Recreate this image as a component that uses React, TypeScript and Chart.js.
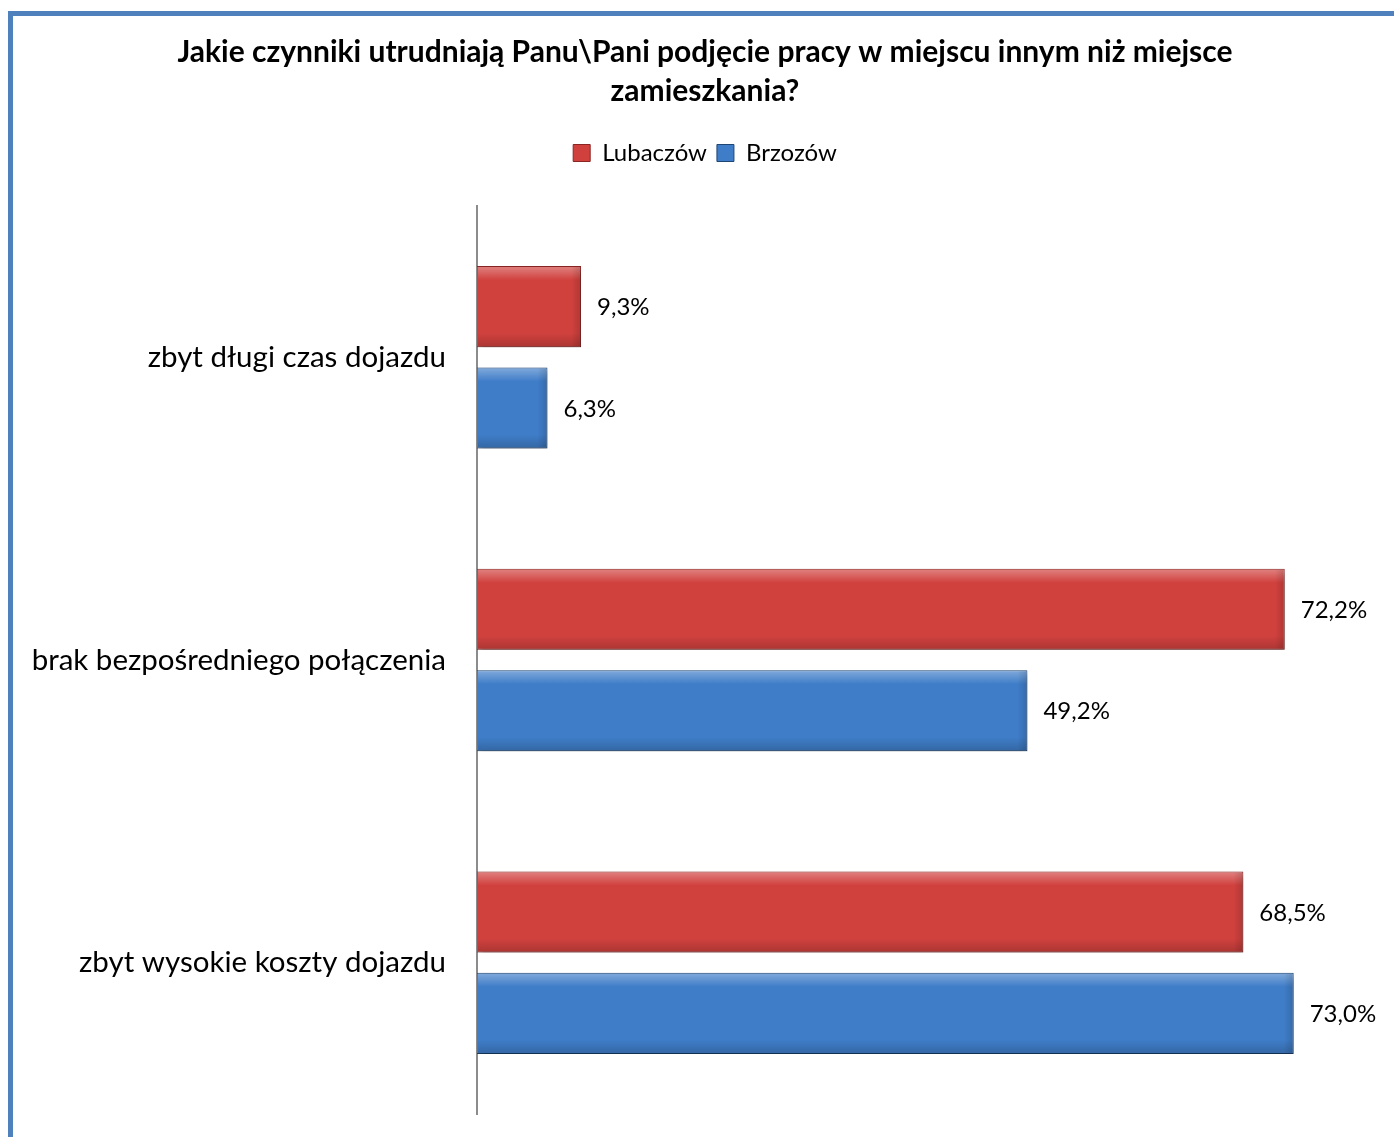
import React, { useEffect, useRef } from "react";
import { Chart, registerables } from "chart.js";

Chart.register(...registerables);

const titleLines = [
  "Jakie czynniki utrudniają Panu\\Pani podjęcie pracy w miejscu innym niż miejsce",
  "zamieszkania?",
];
const categories = [
  "zbyt długi czas dojazdu",
  "brak bezpośredniego połączenia",
  "zbyt wysokie koszty dojazdu",
];
const seriesNames = ["Lubaczów", "Brzozów"];
const lubaczowValues = [9.3, 72.2, 68.5];
const brzozowValues = [6.3, 49.2, 73.0];
const axisMax = 80;

const RED = "#d0413e";
const RED_BORDER = "#8a2523";
const BLUE = "#3f7dc8";
const BLUE_BORDER = "#1e4574";
const FONT = "Lato, 'Open Sans', sans-serif";

const fmt = (v: number) => v.toFixed(1).replace(".", ",") + "%";

export default function App() {
  const ref = useRef<HTMLCanvasElement | null>(null);

  useEffect(() => {
    if (!ref.current) return;
    const legendMargin = {
      id: "legendMargin",
      beforeInit(chart: any) {
        const orig = chart.legend.fit;
        chart.legend.fit = function () {
          orig.bind(chart.legend)();
          this.height += 31;
        };
      },
    };
    const barEffects = {
      id: "barEffects",
      beforeDatasetsDraw(chart: any) {
        const ctx = chart.ctx;
        ctx.save();
        ctx.shadowColor = "rgba(0,0,0,0.35)";
        ctx.shadowOffsetX = 2;
        ctx.shadowOffsetY = 4;
        ctx.shadowBlur = 6;
      },
      afterDatasetsDraw(chart: any) {
        const ctx = chart.ctx;
        ctx.restore();
        ctx.save();
        chart.data.datasets.forEach((ds: any, di: number) => {
          const meta = chart.getDatasetMeta(di);
          meta.data.forEach((bar: any, i: number) => {
            const { x, y, base, height } = bar.getProps(["x", "y", "base", "height"], true);
            const top = y - height / 2;
            const left = Math.min(base, x);
            const w = Math.abs(x - base);
            const g = ctx.createLinearGradient(0, top, 0, top + 14);
            g.addColorStop(0, "rgba(255,255,255,0.35)");
            g.addColorStop(1, "rgba(255,255,255,0)");
            ctx.fillStyle = g;
            ctx.fillRect(left + 1, top + 1, w - 2, 14);
            const g2 = ctx.createLinearGradient(0, top + height - 14, 0, top + height);
            g2.addColorStop(0, "rgba(0,0,0,0)");
            g2.addColorStop(1, "rgba(0,0,0,0.18)");
            ctx.fillStyle = g2;
            ctx.fillRect(left + 1, top + height - 14, w - 2, 13);
            const g3 = ctx.createLinearGradient(left + w - 10, 0, left + w, 0);
            g3.addColorStop(0, "rgba(0,0,0,0)");
            g3.addColorStop(1, "rgba(0,0,0,0.15)");
            ctx.fillStyle = g3;
            ctx.fillRect(left + w - 10, top + 1, 9, height - 2);
            ctx.fillStyle = "#000";
            ctx.font = `24px ${FONT}`;
            ctx.textAlign = "left";
            ctx.textBaseline = "middle";
            ctx.fillText(fmt(ds.data[i]), x + 16, y + 1);
          });
        });
        ctx.restore();
      },
    };

    const chart = new Chart(ref.current, {
      type: "bar",
      data: {
        labels: categories,
        datasets: [
          {
            label: seriesNames[0],
            data: lubaczowValues,
            backgroundColor: RED,
            borderColor: RED_BORDER,
            borderWidth: 1,
            categoryPercentage: 0.67,
            barPercentage: 0.8,
          },
          {
            label: seriesNames[1],
            data: brzozowValues,
            backgroundColor: BLUE,
            borderColor: BLUE_BORDER,
            borderWidth: 1,
            categoryPercentage: 0.67,
            barPercentage: 0.8,
          },
        ],
      },
      options: {
        indexAxis: "y",
        responsive: false,
        animation: false,
        layout: { padding: { left: 38, right: 22, top: 0, bottom: 23 } },
        scales: {
          x: { display: false, min: 0, max: axisMax },
          y: {
            grid: { display: false },
            border: { display: true, color: "#8c8c8c", width: 2 },
            ticks: {
              color: "#000",
              font: { family: FONT, size: 29.5 },
              padding: 23,
            },
            afterFit(scale: any) {
              scale.width = 439;
              scale.paddingTop = 0;
              scale.paddingBottom = 0;
              scale._computeLabelArea = function () {
                return { top: 0, left: 0, bottom: this.chart.height, right: this.right };
              };
            },
          },
        },
        plugins: {
          tooltip: { enabled: false },
          title: {
            display: true,
            text: titleLines,
            color: "#000",
            font: { family: FONT, size: 30, weight: "bold", lineHeight: 1.3 },
            padding: { top: 33, bottom: 20 },
          },
          legend: {
            display: true,
            labels: {
              color: "#000",
              font: { family: FONT, size: 24 },
              boxWidth: 17,
              boxHeight: 17,
              padding: 10,
            },
          },
        },
      },
      plugins: [legendMargin, barEffects],
    } as any);
    return () => chart.destroy();
  }, []);

  return (
    <div style={{ position: "absolute", left: 0, top: 0, width: 1394, height: 1137, background: "#fff" }}>
      <canvas ref={ref} width={1394} height={1137} style={{ position: "absolute", left: 0, top: 0 }} />
      <div
        style={{
          position: "absolute",
          left: 8,
          top: 11,
          width: 1394 - 8,
          height: 1137 - 11,
          borderLeft: "5px solid #4f81bd",
          borderTop: "5px solid #4f81bd",
          boxSizing: "border-box",
          pointerEvents: "none",
        }}
      />
    </div>
  );
}
